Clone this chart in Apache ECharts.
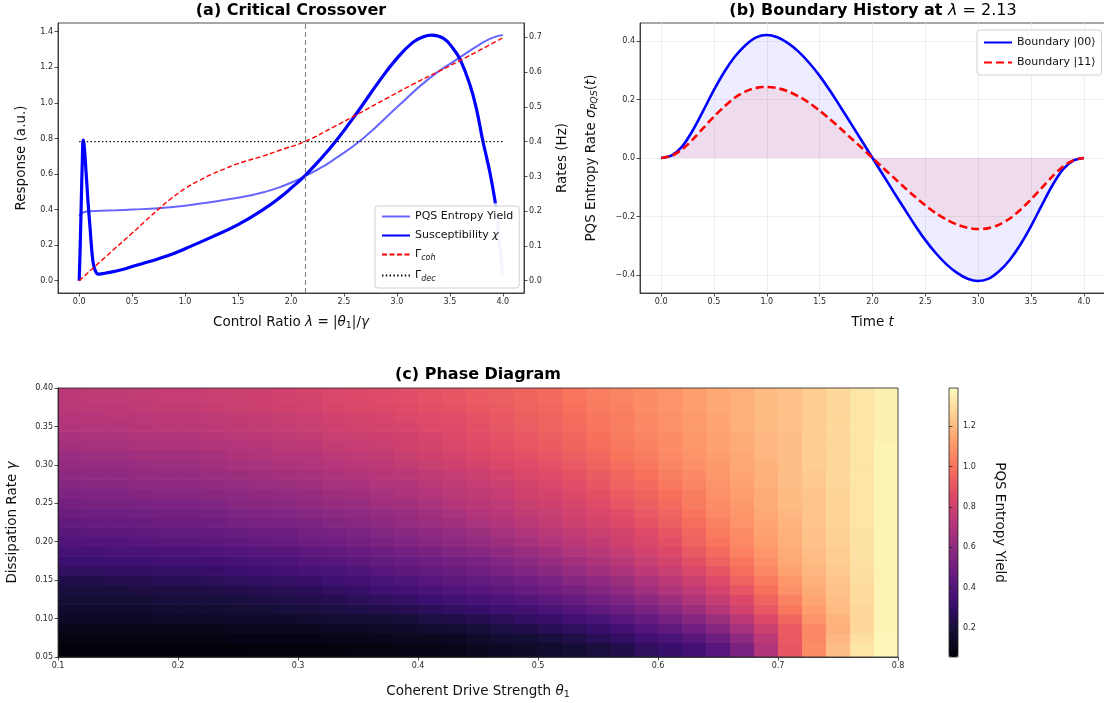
<!DOCTYPE html>
<html><head><meta charset="utf-8">
<script src="https://cdn.jsdelivr.net/npm/echarts@6/dist/echarts.min.js"></script>
<style>html,body{margin:0;padding:0;background:#fff}#c{width:1104px;height:703px}</style>
</head><body><div id="c"></div>
<script>
// ---------------- Panel (a): Critical Crossover ----------------
const lambdaYield = [0, 0.02, 0.05, 0.1, 0.2, 0.35, 0.5, 0.75, 1.0, 1.25, 1.5, 1.625, 1.75, 1.875, 2.0, 2.13, 2.25, 2.37, 2.68, 3.0, 3.3, 3.58, 3.78, 3.9, 4.0];
const yieldVals   = [0.365, 0.378, 0.386, 0.391, 0.393, 0.396, 0.400, 0.408, 0.422, 0.443, 0.466, 0.481, 0.499, 0.522, 0.551, 0.587, 0.625, 0.667, 0.800, 0.975, 1.135, 1.250, 1.328, 1.365, 1.381];
const lambdaChi = [0, 0.01, 0.02, 0.03, 0.038, 0.045, 0.055, 0.065, 0.075, 0.085, 0.1, 0.115, 0.13, 0.15, 0.18, 0.22, 0.3, 0.4, 0.5, 0.6, 0.75, 0.9, 1.0, 1.25, 1.5, 1.75, 1.9, 2.0, 2.13, 2.27, 2.43, 2.63, 2.84, 3.0, 3.15, 3.25, 3.33, 3.44, 3.53, 3.6, 3.69, 3.75, 3.81, 3.88, 3.93];
const chiVals   = [0, 0.20, 0.45, 0.68, 0.79, 0.77, 0.70, 0.61, 0.52, 0.43, 0.32, 0.20, 0.11, 0.06, 0.037, 0.040, 0.048, 0.062, 0.080, 0.097, 0.124, 0.155, 0.180, 0.245, 0.315, 0.405, 0.470, 0.520, 0.590, 0.678, 0.790, 0.950, 1.128, 1.250, 1.340, 1.372, 1.381, 1.362, 1.306, 1.240, 1.100, 0.969, 0.790, 0.603, 0.435];
const lambdaChiTail = [3.93, 3.965, 4.0];
const chiTailVals   = [0.435, 0.230, 0.030];
const lambdaCoh = [0, 0.25, 0.5, 0.625, 0.75, 0.875, 1.0, 1.125, 1.25, 1.375, 1.5, 1.75, 1.9, 2.13, 2.4, 2.64, 2.9, 3.15, 3.4, 3.58, 3.8, 4.0];
const gammaCohVals = [0, 0.069, 0.137, 0.172, 0.206, 0.238, 0.265, 0.287, 0.306, 0.322, 0.337, 0.360, 0.376, 0.400, 0.442, 0.481, 0.524, 0.565, 0.603, 0.631, 0.666, 0.699];
const lambdaDec = [0, 4.0];
const gammaDecVals = [0.4, 0.4];
const lambdaStar = 2.13;
const ticksLambda = [0, 0.5, 1.0, 1.5, 2.0, 2.5, 3.0, 3.5, 4.0];
const ticksResp = [0, 0.2, 0.4, 0.6, 0.8, 1.0, 1.2, 1.4];
const ticksRate = [0, 0.1, 0.2, 0.3, 0.4, 0.5, 0.6, 0.7];

// ---------------- Panel (b): Boundary History ----------------
const timeT = [0,0.1,0.2,0.3,0.4,0.5,0.6,0.7,0.8,0.9,1.0,1.1,1.2,1.3,1.4,1.5,1.6,1.7,1.8,1.9,2.0,2.1,2.2,2.3,2.4,2.5,2.6,2.7,2.8,2.9,3.0,3.1,3.2,3.3,3.4,3.5,3.6,3.7,3.8,3.9,4.0];
const boundary00 = [0,0.009,0.040,0.095,0.163,0.233,0.296,0.348,0.387,0.413,0.421,0.413,0.393,0.364,0.326,0.281,0.229,0.173,0.116,0.058,0,-0.058,-0.116,-0.173,-0.229,-0.281,-0.326,-0.364,-0.393,-0.413,-0.421,-0.413,-0.387,-0.348,-0.296,-0.233,-0.163,-0.095,-0.040,-0.009,0];
const boundary11 = [0,0.008,0.030,0.064,0.103,0.142,0.177,0.207,0.228,0.240,0.243,0.239,0.228,0.211,0.189,0.162,0.132,0.100,0.067,0.034,0,-0.034,-0.067,-0.100,-0.132,-0.162,-0.189,-0.211,-0.228,-0.239,-0.243,-0.240,-0.228,-0.207,-0.177,-0.142,-0.103,-0.064,-0.030,-0.008,0];
const ticksSigma = [-0.4, -0.2, 0, 0.2, 0.4];

// ---------------- Panel (c): Phase Diagram ----------------
const thetaCenters = [0.11,0.13,0.15,0.17,0.19,0.21,0.23,0.25,0.27,0.29,0.31,0.33,0.35,0.37,0.39,0.41,0.43,0.45,0.47,0.49,0.51,0.53,0.55,0.57,0.59,0.61,0.63,0.65,0.67,0.69,0.71,0.73,0.75,0.77,0.79];
const gammaCenters = [0.0625,0.075,0.0875,0.1,0.1125,0.125,0.1375,0.15,0.1625,0.175,0.1875,0.2,0.2125,0.225,0.2375,0.25,0.2625,0.275,0.2875,0.3,0.3125,0.325,0.3375,0.35,0.3625,0.375,0.3875];
const yieldGrid = [
 [0.07,0.07,0.07,0.07,0.07,0.07,0.07,0.07,0.08,0.08,0.08,0.08,0.09,0.09,0.10,0.10,0.11,0.13,0.14,0.15,0.17,0.19,0.21,0.24,0.28,0.31,0.35,0.41,0.53,0.70,0.90,1.07,1.21,1.32,1.37],
 [0.09,0.09,0.09,0.09,0.09,0.09,0.09,0.10,0.10,0.10,0.10,0.11,0.11,0.12,0.13,0.13,0.14,0.16,0.18,0.19,0.21,0.23,0.26,0.29,0.34,0.37,0.42,0.49,0.60,0.74,0.91,1.06,1.19,1.30,1.37],
 [0.12,0.12,0.12,0.12,0.12,0.12,0.12,0.13,0.13,0.13,0.13,0.14,0.14,0.15,0.16,0.17,0.18,0.20,0.22,0.24,0.26,0.28,0.31,0.35,0.40,0.44,0.50,0.57,0.67,0.79,0.92,1.06,1.17,1.28,1.36],
 [0.14,0.14,0.14,0.14,0.15,0.15,0.15,0.16,0.16,0.16,0.17,0.18,0.18,0.19,0.20,0.22,0.23,0.25,0.27,0.29,0.31,0.34,0.37,0.41,0.46,0.51,0.57,0.64,0.74,0.85,0.96,1.09,1.18,1.28,1.36],
 [0.17,0.17,0.17,0.17,0.18,0.18,0.18,0.19,0.19,0.20,0.21,0.22,0.23,0.24,0.25,0.27,0.29,0.31,0.33,0.35,0.37,0.40,0.44,0.48,0.53,0.58,0.64,0.72,0.81,0.91,1.01,1.12,1.20,1.28,1.36],
 [0.19,0.19,0.19,0.19,0.20,0.20,0.20,0.21,0.22,0.23,0.24,0.25,0.27,0.28,0.30,0.32,0.34,0.36,0.38,0.40,0.43,0.46,0.50,0.54,0.59,0.64,0.70,0.77,0.85,0.95,1.04,1.14,1.21,1.29,1.36],
 [0.21,0.21,0.21,0.22,0.22,0.22,0.23,0.24,0.25,0.26,0.27,0.29,0.31,0.33,0.35,0.37,0.39,0.41,0.43,0.46,0.49,0.52,0.56,0.60,0.65,0.70,0.75,0.82,0.90,0.99,1.08,1.16,1.22,1.29,1.36],
 [0.24,0.24,0.25,0.25,0.26,0.26,0.27,0.28,0.29,0.30,0.31,0.33,0.35,0.37,0.39,0.41,0.43,0.45,0.47,0.50,0.53,0.57,0.60,0.64,0.69,0.74,0.79,0.86,0.94,1.02,1.10,1.17,1.23,1.30,1.36],
 [0.28,0.28,0.29,0.29,0.30,0.30,0.31,0.32,0.33,0.34,0.36,0.37,0.39,0.41,0.43,0.45,0.47,0.49,0.52,0.55,0.58,0.62,0.65,0.69,0.74,0.78,0.84,0.90,0.98,1.06,1.13,1.19,1.24,1.30,1.36],
 [0.32,0.32,0.33,0.33,0.34,0.34,0.35,0.36,0.37,0.38,0.40,0.41,0.43,0.45,0.47,0.49,0.51,0.53,0.56,0.59,0.62,0.66,0.69,0.73,0.78,0.82,0.88,0.94,1.01,1.08,1.15,1.20,1.25,1.31,1.36],
 [0.36,0.36,0.37,0.37,0.38,0.38,0.39,0.40,0.41,0.42,0.44,0.45,0.47,0.49,0.51,0.53,0.55,0.57,0.60,0.63,0.66,0.70,0.73,0.77,0.81,0.85,0.91,0.97,1.04,1.10,1.16,1.21,1.25,1.31,1.36],
 [0.39,0.40,0.40,0.41,0.42,0.42,0.43,0.44,0.45,0.46,0.48,0.49,0.51,0.53,0.55,0.57,0.59,0.61,0.64,0.67,0.70,0.73,0.76,0.80,0.84,0.88,0.94,1.00,1.06,1.12,1.17,1.22,1.26,1.31,1.36],
 [0.42,0.43,0.43,0.44,0.45,0.45,0.46,0.47,0.48,0.49,0.51,0.52,0.54,0.56,0.58,0.60,0.62,0.64,0.67,0.70,0.73,0.76,0.79,0.82,0.86,0.90,0.96,1.02,1.07,1.13,1.17,1.22,1.26,1.31,1.36],
 [0.45,0.46,0.46,0.47,0.48,0.48,0.49,0.51,0.52,0.53,0.54,0.56,0.57,0.59,0.61,0.63,0.65,0.68,0.70,0.73,0.76,0.79,0.82,0.85,0.89,0.93,0.98,1.04,1.09,1.14,1.18,1.23,1.27,1.32,1.36],
 [0.48,0.49,0.49,0.50,0.51,0.51,0.52,0.54,0.55,0.56,0.57,0.59,0.60,0.62,0.63,0.65,0.68,0.71,0.73,0.76,0.78,0.81,0.84,0.87,0.91,0.95,1.00,1.06,1.10,1.15,1.19,1.23,1.27,1.32,1.36],
 [0.51,0.52,0.52,0.53,0.54,0.54,0.55,0.57,0.58,0.59,0.60,0.62,0.63,0.65,0.66,0.68,0.71,0.73,0.75,0.78,0.80,0.83,0.86,0.90,0.93,0.97,1.02,1.07,1.11,1.16,1.20,1.23,1.27,1.32,1.36],
 [0.54,0.55,0.55,0.56,0.57,0.57,0.58,0.59,0.60,0.61,0.62,0.64,0.65,0.67,0.69,0.71,0.73,0.75,0.77,0.80,0.82,0.85,0.88,0.92,0.95,0.99,1.03,1.08,1.12,1.16,1.20,1.23,1.27,1.32,1.36],
 [0.57,0.58,0.58,0.59,0.60,0.60,0.61,0.62,0.63,0.64,0.65,0.67,0.68,0.70,0.71,0.73,0.75,0.77,0.79,0.82,0.84,0.87,0.90,0.94,0.97,1.01,1.05,1.09,1.13,1.17,1.21,1.24,1.28,1.32,1.36],
 [0.59,0.60,0.60,0.61,0.62,0.62,0.63,0.64,0.65,0.66,0.67,0.69,0.70,0.72,0.73,0.75,0.77,0.79,0.81,0.84,0.86,0.89,0.92,0.96,0.99,1.03,1.06,1.10,1.14,1.17,1.21,1.24,1.28,1.32,1.36],
 [0.61,0.62,0.62,0.63,0.64,0.64,0.65,0.67,0.68,0.69,0.70,0.72,0.73,0.74,0.76,0.78,0.80,0.82,0.84,0.86,0.88,0.91,0.94,0.98,1.01,1.05,1.08,1.11,1.15,1.18,1.21,1.25,1.28,1.32,1.36],
 [0.63,0.64,0.64,0.65,0.66,0.66,0.67,0.69,0.70,0.71,0.72,0.74,0.75,0.76,0.78,0.80,0.82,0.84,0.86,0.88,0.90,0.93,0.96,1.00,1.03,1.06,1.09,1.12,1.15,1.19,1.21,1.25,1.28,1.32,1.36],
 [0.66,0.67,0.67,0.68,0.69,0.69,0.70,0.71,0.72,0.73,0.74,0.76,0.77,0.78,0.80,0.82,0.84,0.86,0.88,0.90,0.92,0.95,0.98,1.01,1.04,1.07,1.10,1.13,1.16,1.19,1.21,1.25,1.28,1.32,1.36],
 [0.68,0.69,0.69,0.70,0.71,0.71,0.72,0.73,0.74,0.75,0.76,0.78,0.79,0.80,0.81,0.83,0.85,0.87,0.89,0.91,0.93,0.96,0.99,1.02,1.05,1.07,1.10,1.13,1.16,1.19,1.21,1.25,1.28,1.32,1.35],
 [0.70,0.71,0.71,0.72,0.73,0.73,0.74,0.75,0.76,0.77,0.78,0.80,0.81,0.82,0.83,0.85,0.86,0.88,0.90,0.92,0.94,0.97,1.00,1.03,1.06,1.08,1.11,1.14,1.17,1.20,1.22,1.25,1.28,1.32,1.35],
 [0.72,0.72,0.73,0.73,0.74,0.74,0.75,0.76,0.77,0.78,0.79,0.81,0.82,0.83,0.85,0.86,0.87,0.89,0.91,0.93,0.95,0.98,1.01,1.03,1.06,1.08,1.11,1.14,1.17,1.20,1.22,1.25,1.28,1.32,1.35],
 [0.73,0.74,0.74,0.75,0.76,0.76,0.77,0.78,0.79,0.80,0.81,0.83,0.84,0.85,0.86,0.88,0.89,0.91,0.92,0.94,0.96,0.99,1.02,1.04,1.07,1.09,1.12,1.15,1.17,1.20,1.22,1.25,1.28,1.32,1.35],
 [0.74,0.75,0.75,0.76,0.77,0.77,0.78,0.79,0.80,0.81,0.82,0.84,0.85,0.86,0.87,0.89,0.90,0.92,0.93,0.95,0.97,1.00,1.03,1.05,1.07,1.09,1.12,1.15,1.17,1.20,1.22,1.25,1.28,1.32,1.35]
];
const thetaLo = 0.1, thetaHi = 0.8, gammaLo = 0.05, gammaHi = 0.4;
const ticksTheta = [0.1, 0.2, 0.3, 0.4, 0.5, 0.6, 0.7, 0.8];
const ticksGamma = [0.05, 0.10, 0.15, 0.20, 0.25, 0.30, 0.35, 0.40];
const ticksCbar = [0.2, 0.4, 0.6, 0.8, 1.0, 1.2];
const cbarMin = 0.055, cbarMax = 1.39;
const magma = ['#000004','#140e36','#3b0f70','#641a80','#8c2981','#b73779','#de4968','#f7705c','#fe9f6d','#fecf92','#fcfdbf'];

// ---------------- build ----------------
const FONT = '"DejaVu Sans", sans-serif';
const pairs = (xs, ys) => xs.map((x, i) => [x, ys[i]]);
const fmt1 = v => (v < -1e-9 ? '\u2212' : '') + Math.abs(v).toFixed(1);
const fmt2 = v => v.toFixed(2);
const heat = [];
gammaCenters.forEach((g, r) => thetaCenters.forEach((t, c) => heat.push([t, g, yieldGrid[r][c]])));
const dTheta = thetaCenters[1] - thetaCenters[0];
const dGamma = gammaCenters[1] - gammaCenters[0];
const gFirst = gammaCenters[0], gLast = gammaCenters[gammaCenters.length - 1];

const TXT = '#111';
const NAME_FS = 13.5;
const tickLabel = (vals, f) => ({fontSize: 8, color: '#262626', fontFamily: FONT, margin: 5, customValues: vals, formatter: f});
const axLine = {show: true, onZero: false, lineStyle: {color: '#222', width: 0.8}};
const axTick = vals => ({show: true, inside: false, length: 3.5, customValues: vals, lineStyle: {color: '#222', width: 0.8}});
const rich = {
  n: {fontSize: NAME_FS, fontFamily: FONT, color: TXT, lineHeight: 17},
  i: {fontSize: NAME_FS, fontFamily: FONT, fontStyle: 'italic', color: TXT, lineHeight: 17},
  s: {fontSize: 9.5, fontFamily: FONT, fontStyle: 'italic', color: TXT, verticalAlign: 'bottom', lineHeight: 10},
  su: {fontSize: 9.5, fontFamily: FONT, color: TXT, verticalAlign: 'bottom', lineHeight: 10}
};
const nameStyle = {fontSize: NAME_FS, fontFamily: FONT, color: TXT, rich: rich};
const gridLine = {show: true, lineStyle: {color: '#ebebeb', width: 0.8}};

const legendRich = {
  n: {fontSize: 11, fontFamily: FONT, color: TXT, lineHeight: 15},
  i: {fontSize: 11, fontFamily: FONT, fontStyle: 'italic', color: TXT, lineHeight: 15},
  s: {fontSize: 8, fontFamily: FONT, fontStyle: 'italic', color: TXT, verticalAlign: 'bottom', lineHeight: 9}
};
const legendNames = {
  'PQS Entropy Yield': '{n|PQS Entropy Yield}',
  'Susceptibility χ': '{n|Susceptibility }{i|χ}',
  'Γ_coh': '{n|Γ}{s|coh}',
  'Γ_dec': '{n|Γ}{s|dec}',
  'Boundary |00⟩': '{n|Boundary |00⟩}',
  'Boundary |11⟩': '{n|Boundary |11⟩}'
};
const TITLE_FONT = '16px "DejaVu Sans"';
const gridBase = {show: true, borderColor: '#222', borderWidth: 0.8, backgroundColor: 'rgba(0,0,0,0)', containLabel: false, outerBoundsMode: 'none'};

const option = {
  animation: false,
  backgroundColor: '#fff',
  textStyle: {fontFamily: FONT},
  graphic: [
    {type: 'text', x: 291, y: 11, style: {text: '(a) Critical Crossover', font: 'bold ' + TITLE_FONT, fill: '#000', align: 'center', verticalAlign: 'middle'}},
    {type: 'text', x: 873, y: 11, style: {text: '{b|(b) Boundary History at }{i|λ}{m| = 2.13}', align: 'center', verticalAlign: 'middle',
      rich: {b: {font: 'bold ' + TITLE_FONT, fill: '#000'}, i: {font: 'italic ' + TITLE_FONT, fill: '#000'}, m: {font: TITLE_FONT, fill: '#000'}}}},
    {type: 'text', x: 478, y: 375, style: {text: '(c) Phase Diagram', font: 'bold ' + TITLE_FONT, fill: '#000', align: 'center', verticalAlign: 'middle'}}
  ],
  grid: [
    Object.assign({left: 58, top: 23, width: 466, height: 270}, gridBase),
    Object.assign({left: 640, top: 23, width: 465, height: 270}, gridBase),
    Object.assign({left: 58, top: 388, width: 840, height: 269, z: 10}, gridBase),
    Object.assign({left: 949, top: 388, width: 9, height: 269, z: 10}, gridBase)
  ],
  xAxis: [
    {gridIndex: 0, type: 'value', min: -0.2, max: 4.2, splitNumber: 9, axisLine: axLine, axisTick: axTick(ticksLambda),
     axisLabel: tickLabel(ticksLambda, fmt1), splitLine: {show: false},
     name: '{n|Control Ratio }{i|λ}{n| = |}{i|θ}{su|1}{n||/}{i|γ}', nameLocation: 'middle', nameGap: 21, nameTextStyle: nameStyle},
    {gridIndex: 1, type: 'value', min: -0.2, max: 4.2, splitNumber: 9, axisLine: axLine, axisTick: axTick(ticksLambda),
     axisLabel: tickLabel(ticksLambda, fmt1), splitLine: gridLine,
     name: '{n|Time }{i|t}', nameLocation: 'middle', nameGap: 21, nameTextStyle: nameStyle},
    {gridIndex: 2, type: 'value', min: thetaLo, max: thetaHi, interval: 0.1, axisLine: axLine, axisTick: axTick(ticksTheta),
     axisLabel: tickLabel(ticksTheta, fmt1), splitLine: {show: false}, z: 12,
     name: '{n|Coherent Drive Strength }{i|θ}{su|1}', nameLocation: 'middle', nameGap: 26, nameTextStyle: nameStyle},
    {gridIndex: 3, type: 'value', min: 0, max: 1, show: false}
  ],
  yAxis: [
    {gridIndex: 0, type: 'value', min: -0.069, max: 1.449, splitNumber: 7, axisLine: axLine, axisTick: axTick(ticksResp),
     axisLabel: tickLabel(ticksResp, fmt1), splitLine: {show: false},
     name: 'Response (a.u.)', nameLocation: 'middle', nameRotate: 90, nameGap: 30, nameTextStyle: nameStyle},
    {gridIndex: 0, type: 'value', position: 'right', min: -0.0353, max: 0.7413, splitNumber: 7, axisLine: axLine, axisTick: axTick(ticksRate),
     axisLabel: tickLabel(ticksRate, fmt1), splitLine: {show: false},
     name: 'Rates (Hz)', nameLocation: 'middle', nameRotate: 90, nameGap: 31, nameTextStyle: nameStyle},
    {gridIndex: 1, type: 'value', min: -0.462, max: 0.462, splitNumber: 4, axisLine: axLine, axisTick: axTick(ticksSigma),
     axisLabel: tickLabel(ticksSigma, fmt1), splitLine: gridLine,
     name: '{n|PQS Entropy Rate }{i|σ}{s|PQS}{n|(}{i|t}{n|)}', nameLocation: 'middle', nameRotate: 90, nameGap: 40, nameTextStyle: nameStyle},
    {gridIndex: 2, type: 'value', min: gammaLo, max: gammaHi, interval: 0.05, axisLine: axLine, axisTick: axTick(ticksGamma),
     axisLabel: tickLabel(ticksGamma, fmt2), splitLine: {show: false}, z: 12,
     name: '{n|Dissipation Rate }{i|γ}', nameLocation: 'middle', nameRotate: 90, nameGap: 37, nameTextStyle: nameStyle},
    {gridIndex: 3, type: 'value', position: 'right', min: cbarMin, max: cbarMax, splitNumber: 7, axisLine: {show: false}, axisTick: axTick(ticksCbar),
     axisLabel: tickLabel(ticksCbar, fmt1), splitLine: {show: false}, z: 12,
     name: 'PQS Entropy Yield', nameLocation: 'middle', nameRotate: -90, nameGap: 34, nameTextStyle: nameStyle}
  ],
  legend: [
    {data: ['PQS Entropy Yield', 'Susceptibility χ', 'Γ_coh', 'Γ_dec'], orient: 'vertical', left: 375, top: 206,
     padding: [5, 6, 5, 6], itemGap: 8, itemWidth: 28, itemHeight: 12, backgroundColor: 'rgba(255,255,255,0.8)',
     borderColor: '#d0d0d0', borderWidth: 1, borderRadius: 3, formatter: n => legendNames[n],
     itemStyle: {opacity: 0}, textStyle: {fontSize: 11, fontFamily: FONT, color: TXT, rich: legendRich}},
    {data: ['Boundary |00⟩', 'Boundary |11⟩'], orient: 'vertical', left: 977, top: 30,
     padding: [7, 6, 7, 6], itemGap: 9, itemWidth: 28, itemHeight: 12, backgroundColor: 'rgba(255,255,255,0.8)',
     borderColor: '#d0d0d0', borderWidth: 1, borderRadius: 3, formatter: n => legendNames[n],
     itemStyle: {opacity: 0}, textStyle: {fontSize: 11, fontFamily: FONT, color: TXT, rich: legendRich}}
  ],
  visualMap: {
    type: 'continuous', min: cbarMin, max: cbarMax, dimension: 2, seriesIndex: 7, calculable: false,
    left: 949, top: 388, itemWidth: 9, itemHeight: 269, padding: 0, text: null,
    inRange: {color: magma}, z: 4
  },
  series: [
    {name: 'PQS Entropy Yield', type: 'line', xAxisIndex: 0, yAxisIndex: 0, data: pairs(lambdaYield, yieldVals),
     showSymbol: false, symbol: 'none', smooth: 0.5, color: 'rgba(0,0,255,0.6)',
     lineStyle: {color: 'rgba(0,0,255,0.6)', width: 2},
     markLine: {silent: true, symbol: ['none', 'none'], label: {show: false},
       lineStyle: {type: [5, 3], color: '#808080', width: 1.1}, data: [{xAxis: lambdaStar}]}},
    {name: 'Susceptibility χ', type: 'line', xAxisIndex: 0, yAxisIndex: 0, data: pairs(lambdaChi, chiVals),
     showSymbol: false, symbol: 'none', smooth: 0.45, color: '#0000ff',
     lineStyle: {color: '#0000ff', width: 3.2}},
    {name: 'chi tail', type: 'line', xAxisIndex: 0, yAxisIndex: 0, data: pairs(lambdaChiTail, chiTailVals),
     showSymbol: false, symbol: 'none', smooth: 0.3, color: 'rgba(0,0,255,0.22)',
     lineStyle: {color: 'rgba(0,0,255,0.22)', width: 3.2}},
    {name: 'Γ_coh', type: 'line', xAxisIndex: 0, yAxisIndex: 1, data: pairs(lambdaCoh, gammaCohVals),
     showSymbol: false, symbol: 'none', smooth: 0.5, color: '#ff0000',
     lineStyle: {color: '#ff0000', width: 1.4, type: [5, 2.5]}},
    {name: 'Γ_dec', type: 'line', xAxisIndex: 0, yAxisIndex: 1, data: pairs(lambdaDec, gammaDecVals),
     showSymbol: false, symbol: 'none', color: '#000',
     lineStyle: {color: '#000', width: 1.4, type: [1.4, 2.4]}},
    {name: 'Boundary |00⟩', type: 'line', xAxisIndex: 1, yAxisIndex: 2, data: pairs(timeT, boundary00),
     showSymbol: false, symbol: 'none', smooth: 0.3, color: '#0000ff',
     lineStyle: {color: '#0000ff', width: 2.6}, areaStyle: {color: 'rgba(0,0,255,0.1)'}},
    {name: 'Boundary |11⟩', type: 'line', xAxisIndex: 1, yAxisIndex: 2, data: pairs(timeT, boundary11),
     showSymbol: false, symbol: 'none', smooth: 0.3, color: '#ff0000',
     lineStyle: {color: '#ff0000', width: 2.6, type: [8, 4]}, areaStyle: {color: 'rgba(255,0,0,0.1)'}},
    {name: 'phase', type: 'custom', xAxisIndex: 2, yAxisIndex: 3, data: heat, clip: true,
     encode: {x: 0, y: 1}, dimensions: ['theta', 'gamma', 'yield'],
     renderItem: function (params, api) {
       const x = api.value(0), y = api.value(1);
       const yTop = (y === gLast) ? gammaHi : y + dGamma / 2;
       const yBot = (y === gFirst) ? gammaLo : y - dGamma / 2;
       const p0 = api.coord([x - dTheta / 2, yTop]);
       const p1 = api.coord([x + dTheta / 2, yBot]);
       return {type: 'rect', shape: {x: p0[0], y: p0[1], width: p1[0] - p0[0] + 0.6, height: p1[1] - p0[1] + 0.6},
               style: {fill: api.visual('color')}};
     }}
  ]
};
const chart = echarts.init(document.getElementById('c'), null, {renderer: 'canvas'});
chart.setOption(option);
</script>
</body></html>
